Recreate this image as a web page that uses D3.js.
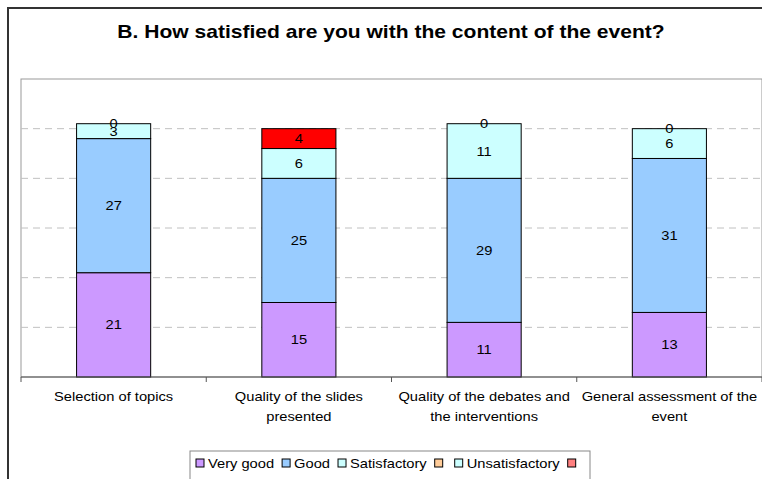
<!DOCTYPE html>
<html>
<head>
<meta charset="utf-8">
<script src="https://cdn.jsdelivr.net/npm/d3@7"></script>
<style>
body { margin: 0; background: #fff; }
svg { display: block; font-family: "Liberation Sans", Arial, sans-serif; }
</style>
</head>
<body>
<svg id="chart"></svg>
<script>
// categories and series
let categories = [["Selection of topics"], ["Quality of the slides", "presented"],
                  ["Quality of the debates and", "the interventions"], ["General assessment of the", "event"]];
let veryGood = [21, 15, 11, 13];
let good = [27, 25, 29, 31];
let satisfactory = [3, 6, 11, 6];
let blankOrange = [null, null, null, null];
let unsatisfactory = [0, null, 0, 0];
let blankRed = [null, 4, null, null];
let seriesNames = ["Very good", "Good", "Satisfactory", "", "Unsatisfactory", ""];
let yTicks = [10, 20, 30, 40, 50, 60];

function drawChart() {
let width = 762, height = 479;
let svg = d3.select("#chart").attr("width", width).attr("height", height);

let allSeries = [veryGood, good, satisfactory, blankOrange, unsatisfactory, blankRed];
let colors = ["#cc99ff", "#99ccff", "#ccffff", "#ffcc99", "#ccffff", "#ff0000"];
let legendColors = ["#cc99ff", "#99ccff", "#ccffff", "#ffcc99", "#ccffff", "#ff8080"];
// the original text is a bit wider than the fonts here
let stretch = 1.13;

// outer frame of the chart
svg.append("rect")
   .attr("x", 8).attr("y", 8).attr("width", 800).attr("height", 500)
   .style("fill", "#fff").style("stroke", "#333").style("stroke-width", 2);

svg.append("text")
   .attr("transform", `translate(391, 38) scale(1.17, 1)`)
   .attr("text-anchor", "middle")
   .style("font-weight", "bold").style("font-size", "18px")
   .text("B. How satisfied are you with the content of the event?");

let plotLeft = 21, plotTop = 79, plotRight = 762, plotBottom = 377;

let scaleX = d3.scaleBand()
               .domain(d3.range(categories.length))
               .range([plotLeft, plotRight])
               .paddingInner(0.6).paddingOuter(0.3);
let scaleY = d3.scaleLinear().domain([0, 60]).range([plotBottom, plotTop]);

// plot area
svg.append("rect")
   .attr("x", plotLeft).attr("y", plotTop)
   .attr("width", plotRight - plotLeft).attr("height", plotBottom - plotTop)
   .style("fill", "#fff").style("stroke", "#999").style("stroke-width", 1);

// dashed gridlines
svg.append("g").selectAll("line")
   .data(yTicks.slice(0, -1))
   .enter().append("line")
   .attr("x1", plotLeft).attr("x2", plotRight)
   .attr("y1", d => scaleY(d)).attr("y2", d => scaleY(d))
   .style("stroke", "#c0c0c0").style("stroke-dasharray", "7,5");

// stack the series
let stacked = [];
for (let i = 0; i < categories.length; i++) {
    let base = 0;
    allSeries.forEach((s, k) => {
        if (s[i] === null) return;
        stacked.push({cat: i, k: k, y0: base, y1: base + s[i], v: s[i]});
        base += s[i];
    });
}

svg.append("g").selectAll("rect")
   .data(stacked.filter(d => d.v > 0))
   .enter().append("rect")
   .attr("x", d => scaleX(d.cat))
   .attr("width", scaleX.bandwidth())
   .attr("y", d => scaleY(d.y1))
   .attr("height", d => scaleY(d.y0) - scaleY(d.y1))
   .style("fill", d => colors[d.k])
   .style("stroke", "#000").style("stroke-width", 1);

svg.append("g").selectAll("text")
   .data(stacked)
   .enter().append("text")
   .attr("transform", d => `translate(${scaleX(d.cat) + scaleX.bandwidth() / 2}, ${(scaleY(d.y0) + scaleY(d.y1)) / 2}) scale(${stretch}, 1)`)
   .attr("dy", "0.35em")
   .attr("text-anchor", "middle")
   .style("font-size", "13px")
   .text(d => d.v);

// x axis with ticks between categories
let axisG = svg.append("g");
axisG.append("line")
   .attr("x1", plotLeft).attr("x2", plotRight)
   .attr("y1", plotBottom).attr("y2", plotBottom)
   .style("stroke", "#555");
let step = scaleX.step();
axisG.selectAll(".tick")
   .data(d3.range(categories.length + 1))
   .enter().append("line")
   .attr("x1", d => plotLeft + d * step).attr("x2", d => plotLeft + d * step)
   .attr("y1", plotBottom).attr("y2", plotBottom + 5)
   .style("stroke", "#555");

axisG.selectAll(".lbl")
   .data(categories)
   .enter().append("text")
   .attr("text-anchor", "middle")
   .attr("transform", (d, i) => `translate(${scaleX(i) + scaleX.bandwidth() / 2}, ${plotBottom + 24}) scale(${stretch}, 1)`)
   .style("font-size", "13px")
   .selectAll("tspan")
   .data(d => d)
   .enter().append("tspan")
   .attr("x", 0)
   .attr("dy", (d, j) => j == 0 ? 0 : 20)
   .text(d => d);

// legend
let legend = svg.append("g").attr("transform", "translate(190, 451)");
legend.append("rect")
   .attr("x", 0).attr("y", 0).attr("width", 400).attr("height", 40)
   .style("fill", "#fff").style("stroke", "#888");
let lx = 6;
seriesNames.forEach((name, k) => {
    legend.append("rect")
       .attr("x", lx).attr("y", 8).attr("width", 8).attr("height", 8)
       .style("fill", legendColors[k]).style("stroke", "#000");
    lx += 12;
    let t = legend.append("text")
       .attr("transform", `translate(${lx}, 17) scale(${stretch}, 1)`)
       .style("font-size", "13px")
       .text(name);
    let w = name ? t.node().getComputedTextLength() * stretch : 0;
    lx += w + (name ? 8 : 8);
});
}

document.addEventListener("DOMContentLoaded", () => {
    drawChart();
});
</script>
</body>
</html>
